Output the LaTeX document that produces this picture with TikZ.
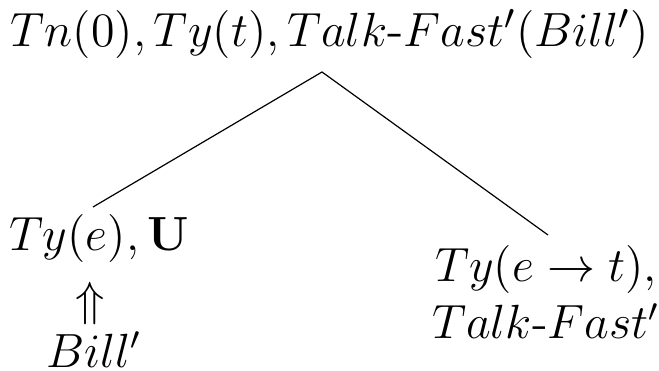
\documentclass[tikz,border=0pt]{standalone}
\usepackage{amsmath}
\begin{document}
\begin{tikzpicture}[x=0.25pt,y=-0.25pt,
  lbl/.style={inner sep=0pt,outer sep=0pt,font=\fontsize{12}{14.4}\selectfont},
  toplbl/.style={lbl,font=\fontsize{12.5}{14.4}\selectfont},
  edge/.style={line width=0.3pt}]
\useasboundingbox (0,0) rectangle (659,371);
\node[toplbl,anchor=base] (root) at (330,47) {$Tn(0), Ty(t), Talk\text{-}Fast'(Bill')$};
\node[lbl,anchor=base west] (left) at (9,251) {$Ty(e), \mathbf{U}$};
\node[lbl] (arr) at (90,303) {$\Uparrow$};
\node[lbl,anchor=base] (bill) at (94,367) {$Bill'$};
\node[lbl,anchor=base,align=center] (right) at (546,339) {$Ty(e\rightarrow t),$\\$Talk\text{-}Fast'$};
\coordinate (apex) at (322,72);
\coordinate (lend) at (93,207);
\coordinate (rend) at (548,235);
\draw[edge] (lend) -- (apex) -- (rend);
\end{tikzpicture}
\end{document}
